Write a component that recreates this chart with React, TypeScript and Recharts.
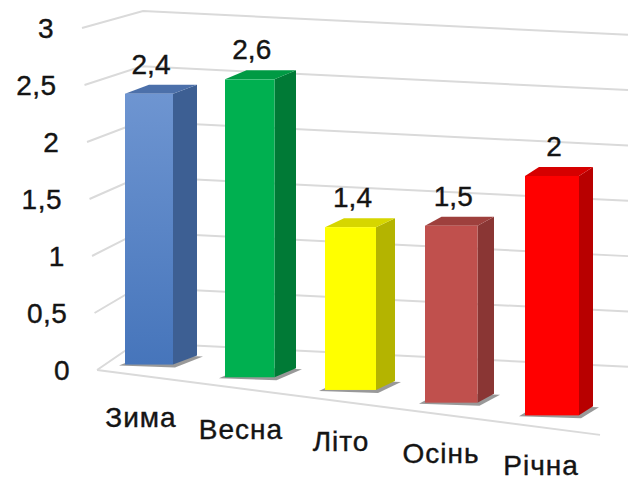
import React from 'react';
import { BarChart, Bar, XAxis, YAxis, CartesianGrid, LabelList } from 'recharts';

const categories = ['Зима', 'Весна', 'Літо', 'Осінь', 'Річна'];
const values = [2.4, 2.6, 1.4, 1.5, 2.0];
const yTicks = [0, 0.5, 1, 1.5, 2, 2.5, 3];

const FRONT = ['url(#winterGrad)', '#00b050', '#ffff00', '#c0504d', '#ff0000'];
const SIDE = ['#3d5f93', '#007a36', '#b4b400', '#8a3634', '#b80000'];
const TOP = ['#4c70aa', '#009a44', '#d6d600', '#9e403d', '#d60000'];

const data = categories.map((name, i) => ({ name, value: values[i] }));

const PLOT_TOP = 28;
const FONT = "'Liberation Sans', Arial, sans-serif";
const INK = '#141414';

// fake perspective: things further right sit lower and grow a bit
function box(x: number, y: number, width: number, height: number) {
  const pf = 0.99 + 0.00015 * (x - 125);
  const w = width * (0.96 + 0.0003 * (x - 125));
  const bottom = y + height + 0.127 * (x - 97) - 9;
  const top = bottom - height * pf;
  const dx = 24 - 0.025 * (x - 125);
  const dy = -9;
  return { x, w, top, bottom, dx, dy };
}

function Box3D(props: any) {
  const { x, y, width, height, index } = props;
  const b = box(x, y, width, height);
  const xr = b.x + b.w;
  const shadow = `${b.x - 6},${b.bottom + 1} ${xr + 2},${b.bottom + 3} ${xr + b.dx + 6},${b.bottom + b.dy + 1} ${b.x + b.dx - 2},${b.bottom + b.dy - 1}`;
  const side = `${xr},${b.top} ${xr + b.dx},${b.top + b.dy} ${xr + b.dx},${b.bottom + b.dy} ${xr},${b.bottom}`;
  const top = `${b.x},${b.top} ${b.x + b.dx},${b.top + b.dy} ${xr + b.dx},${b.top + b.dy} ${xr},${b.top}`;
  return (
    <g>
      <polygon points={shadow} fill="#7f7f7f" opacity={0.8} />
      <polygon points={side} fill={SIDE[index]} />
      <polygon points={top} fill={TOP[index]} />
      <rect x={b.x} y={b.top} width={b.w} height={b.bottom - b.top} fill={FRONT[index]} />
    </g>
  );
}

function ValueLabel(props: any) {
  const { x, y, width, height, value } = props;
  const b = box(x, y, width, height);
  return (
    <text x={b.x + b.w / 2 + 2} y={b.top - 20} textAnchor="middle" fontSize={28} fontFamily={FONT}
      fill={INK} stroke={INK} strokeWidth={0.4}>
      {String(value).replace('.', ',')}
    </text>
  );
}

function GridLine(p: any) {
  const y = p.y1;
  const t = y - PLOT_TOP;
  const lx = 82 + t * 0.044;
  const cx = 143 - t * 0.018;
  const cy = 11 + t * 0.97;
  const rx = 628;
  const ry = cy + 0.049 * (rx - cx);
  const isFloor = t > 330;
  return (
    <g key={`grid-${p.index}`}>
      <polyline points={`${lx},${y} ${cx},${cy} ${rx},${ry}`} fill="none" stroke="#dadada" strokeWidth={2} />
      {isFloor && <line x1={lx} y1={y} x2={600} y2={y + 0.129 * (600 - lx)} stroke="#dadada" strokeWidth={2} />}
    </g>
  );
}

function YTick(props: any) {
  const { y, payload } = props;
  const t = y - PLOT_TOP;
  return (
    <text x={54 + t * 0.047} y={y + 10} textAnchor="end" fontSize={28} fontFamily={FONT}
      fill={INK} stroke={INK} strokeWidth={0.4} letterSpacing={0.5}>
      {String(payload.value).replace('.', ',')}
    </text>
  );
}

function XTick(props: any) {
  const { x, payload } = props;
  return (
    <text x={x - 9} y={418 + 0.12 * (x - 150) + 9} textAnchor="middle" fontSize={28} fontFamily={FONT}
      fill={INK} stroke={INK} strokeWidth={0.4} letterSpacing={1}>
      {payload.value}
    </text>
  );
}

export default function App() {
  return (
    <div style={{ position: 'absolute', left: 0, top: 0, width: 631, height: 484, background: '#fff' }}>
      <BarChart width={631} height={484} data={data} margin={{ top: PLOT_TOP, right: 31, bottom: 84, left: 40 }}>
        <defs>
          <linearGradient id="winterGrad" x1="0" y1="0" x2="0" y2="1">
            <stop offset="0%" stopColor="#6e95d1" />
            <stop offset="100%" stopColor="#4675bb" />
          </linearGradient>
        </defs>
        <CartesianGrid vertical={false} horizontal={(p: any) => GridLine(p)} />
        <YAxis
          domain={[0, 3]}
          ticks={yTicks}
          interval={0}
          axisLine={false}
          tickLine={false}
          width={60}
          tick={<YTick />}
        />
        <XAxis dataKey="name" interval={0} axisLine={false} tickLine={false} height={30} tick={<XTick />} />
        <Bar dataKey="value" barSize={50} shape={<Box3D />} isAnimationActive={false}>
          <LabelList dataKey="value" content={<ValueLabel />} />
        </Bar>
      </BarChart>
    </div>
  );
}
